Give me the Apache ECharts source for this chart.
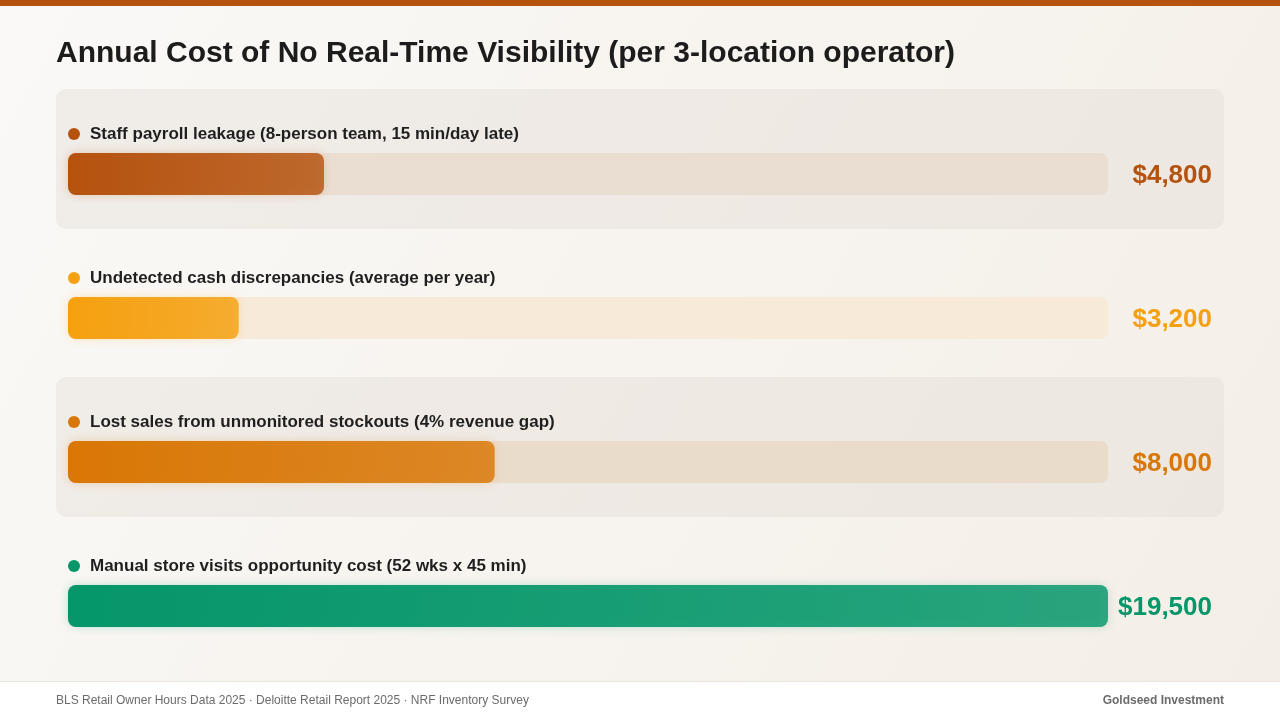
<!DOCTYPE html>
<html>
<head>
<meta charset="utf-8">
<script src="https://cdn.jsdelivr.net/npm/echarts@6/dist/echarts.min.js"></script>
<style>
  html, body { margin: 0; padding: 0; }
  #chart { width: 1280px; height: 720px; }
</style>
</head>
<body>
<div id="chart"></div>
<script>
var categories = [
  'Staff payroll leakage (8-person team, 15 min/day late)',
  'Undetected cash discrepancies (average per year)',
  'Lost sales from unmonitored stockouts (4% revenue gap)',
  'Manual store visits opportunity cost (52 wks x 45 min)'
];
var costs = [4800, 3200, 8000, 19500];
var axisMax = 19500;
var barColors = ['#b5520e', '#f5a00f', '#d97706', '#059669'];
var trackColors = ['#eaded2', '#f7ead8', '#eadccb', '#e6efe9'];

var font = '"Liberation Sans", Arial, Helvetica, sans-serif';

function money(v) {
  return '$' + v.toLocaleString('en-US');
}
function hexA(hex, a) {
  var r = parseInt(hex.slice(1, 3), 16), g = parseInt(hex.slice(3, 5), 16), b = parseInt(hex.slice(5, 7), 16);
  return 'rgba(' + r + ',' + g + ',' + b + ',' + a + ')';
}

var chart = echarts.init(document.getElementById('chart'));

var option = {
  backgroundColor: new echarts.graphic.LinearGradient(0, 0, 1, 1, [
    { offset: 0, color: '#faf9f7' },
    { offset: 1, color: '#f4eee6' }
  ]),
  textStyle: { fontFamily: font },
  title: {
    text: 'Annual Cost of No Real-Time Visibility (per 3-location operator)',
    left: 56,
    top: 39,
    padding: 0,
    textStyle: { fontSize: 30, fontWeight: 'bold', color: '#1c1c1c', fontFamily: font }
  },
  graphic: [
    { type: 'rect', z: -10, shape: { x: 0, y: 0, width: 1280, height: 6 }, style: { fill: '#b5520e' } },
    { type: 'rect', z: -10, shape: { x: 56, y: 89, width: 1168, height: 140, r: 10 }, style: { fill: 'rgba(228,222,214,0.45)' } },
    { type: 'rect', z: -10, shape: { x: 56, y: 377, width: 1168, height: 140, r: 10 }, style: { fill: 'rgba(228,222,214,0.45)' } },
    { type: 'rect', z: -10, shape: { x: 0, y: 681, width: 1280, height: 39 }, style: { fill: '#ffffff' } },
    { type: 'line', z: -9, shape: { x1: 0, y1: 681.5, x2: 1280, y2: 681.5 }, style: { stroke: '#e8e4de', lineWidth: 1 } },
    { type: 'text', left: 56, top: 695, style: { text: 'BLS Retail Owner Hours Data 2025 · Deloitte Retail Report 2025 · NRF Inventory Survey', fill: '#6b6b6b', font: '12px ' + font } },
    { type: 'text', right: 56, top: 695, style: { text: 'Goldseed Investment', fill: '#6b6b6b', font: 'bold 12px ' + font } }
  ],
  grid: { left: 68, right: 172, top: 102, bottom: 42 },
  xAxis: { type: 'value', min: 0, max: axisMax, show: false },
  yAxis: { type: 'category', data: categories, inverse: true, show: false },
  series: [
    {
      type: 'bar',
      barWidth: 42,
      barGap: '-100%',
      silent: true,
      data: categories.map(function (c, i) {
        return {
          value: axisMax,
          itemStyle: { color: trackColors[i], borderRadius: 8 },
          label: { color: barColors[i] }
        };
      }),
      label: {
        show: true,
        position: ['100%', '50%'],
        offset: [104, 2],
        align: 'right',
        verticalAlign: 'middle',
        fontSize: 26,
        fontWeight: 'bold',
        fontFamily: font,
        formatter: function (p) { return money(costs[p.dataIndex]); }
      }
    },
    {
      type: 'bar',
      barWidth: 42,
      z: 3,
      data: costs.map(function (v, i) {
        return {
          value: v,
          itemStyle: {
            borderRadius: 8,
            color: new echarts.graphic.LinearGradient(0, 0, 1, 0, [
              { offset: 0, color: barColors[i] },
              { offset: 1, color: hexA(barColors[i], 0.8) }
            ]),
            shadowBlur: 10,
            shadowColor: hexA(barColors[i], 0.25)
          },
          label: {
            rich: {
              dot: { width: 12, height: 12, borderRadius: 6, backgroundColor: barColors[i] },
              t: { fontSize: 17, fontWeight: 'bold', color: '#1f1f1f', fontFamily: font, padding: [0, 0, 0, 10] }
            }
          }
        };
      }),
      label: {
        show: true,
        position: [0, -19],
        align: 'left',
        verticalAlign: 'middle',
        formatter: function (p) { return '{dot|}{t|' + categories[p.dataIndex] + '}'; }
      }
    }
  ]
};

chart.setOption(option);
</script>
</body>
</html>
